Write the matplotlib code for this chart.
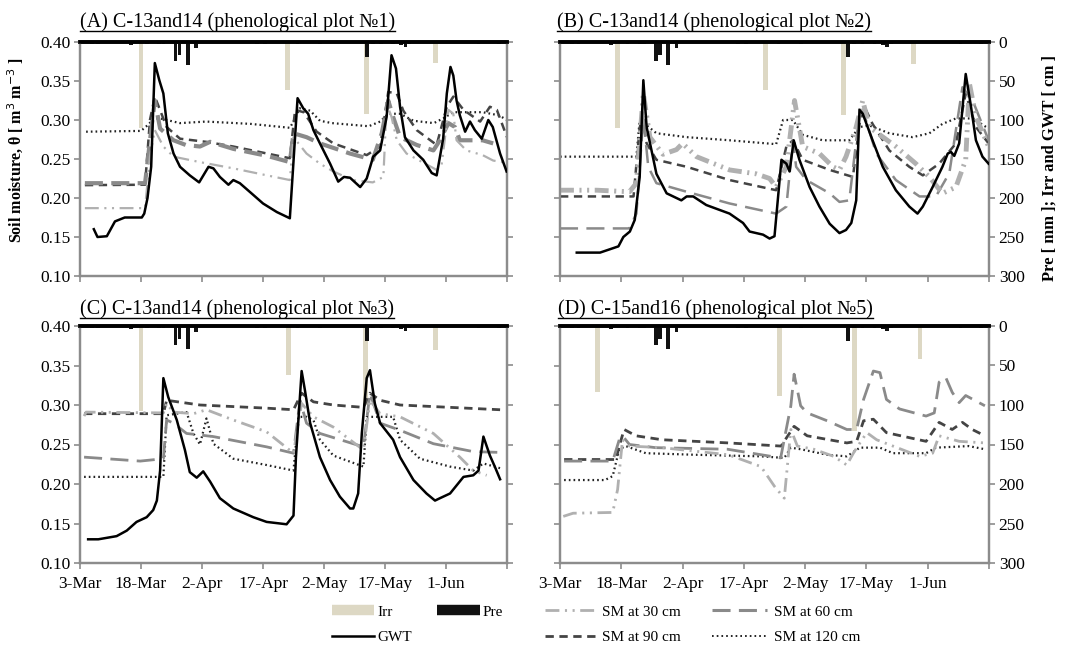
import matplotlib
matplotlib.use('Agg')
import matplotlib.pyplot as plt
from matplotlib.lines import Line2D

plt.rcParams['font.family'] = ['Liberation Serif', 'DejaVu Serif']
plt.rcParams['lines.scale_dashes'] = False

# ---------------- data ----------------
tick_days = [0, 15, 30, 45, 60, 75, 90, 105]
tick_labels = ['3-Mar', '18-Mar', '2-Apr', '17-Apr', '2-May', '17-May', '1-Jun', '']

pre_day = [3, 4.5, 12.5, 16.5, 19.5, 20.5, 23.5, 24.5, 26.5, 28.5, 43.5, 45.5, 53.5, 59,
           70.5, 72, 74, 77, 79, 80, 81, 98, 103]
pre_mm = [3, 3, 4, 3, 2, 3, 24, 17, 29, 8, 3, 3, 3, 3, 19, 2, 3, 2, 4, 6, 3, 3, 2]

# Panel A
A_irr_day = [15, 51, 70.5, 87.5]
A_irr = [110, 61, 92, 27]
A_gwt_day = [3.4, 4.3, 6.6, 8.6, 11, 13, 15.2, 15.8, 16.6, 17.5, 18.4, 19.5, 20.5, 21.6, 23, 24.6, 27,
             29.3, 31.6, 32.8, 34.4, 36.5, 37.7, 39.3, 42.6, 45, 48.4, 51.6, 53.5, 54.9, 56.1, 57.4,
             59, 61.5, 63.5, 64.9, 66.4, 68.9, 70.5, 72.1, 73.8, 75.4, 76.6, 77.7, 78.7, 79.9, 82,
             84.4, 86.5, 87.7, 89.3, 90.2, 91.1, 91.8, 92.6, 93.4, 94.7, 95.9, 97.1, 98.8, 100.4,
             101.5, 103.3, 104.9]
A_gwt = [240, 250, 249, 230, 225, 225, 225, 220, 200, 160, 27, 49, 66, 117, 143, 160, 171, 180, 160,
         162, 173, 183, 177, 181, 196, 207, 218, 226, 72, 85, 92, 113, 130, 156, 179, 173, 174, 186,
         175, 147, 139, 96, 17, 34, 83, 122, 139, 151, 168, 171, 124, 66, 32, 43, 75, 94, 115, 102,
         113, 124, 100, 109, 143, 166]
A_sm120_day = [1.5, 15, 17, 18, 19.7, 24.6, 31, 42, 51.6, 52.5, 54, 56.6, 59, 62, 71, 73.8, 75.8,
               78.7, 82, 87, 89.3, 91.8, 99, 103, 105]
A_sm120 = [0.285, 0.286, 0.295, 0.302, 0.302, 0.296, 0.298, 0.295, 0.290, 0.298, 0.315, 0.312, 0.299,
           0.296, 0.292, 0.298, 0.308, 0.308, 0.299, 0.296, 0.302, 0.310, 0.310, 0.306, 0.300]
A_sm90_day = [1.2, 16, 17.2, 18.4, 21.3, 24.6, 31, 37.7, 46, 51.6, 52.9, 55, 58.2, 62.3, 70.5, 73.8,
              75.8, 77.9, 79.5, 82.8, 87.7, 90.2, 91.8, 94.3, 98.4, 100.8, 102.5, 105]
A_sm90 = [0.2165, 0.217, 0.30, 0.33, 0.291, 0.276, 0.272, 0.266, 0.257, 0.251, 0.313, 0.310, 0.285,
          0.270, 0.255, 0.266, 0.336, 0.334, 0.312, 0.287, 0.268, 0.317, 0.330, 0.313, 0.298, 0.317,
          0.313, 0.278]
A_sm60_day = [1.2, 16, 17.6, 18.4, 19.7, 23, 26, 29.5, 32, 37.7, 46, 51.6, 52.5, 55.7, 59, 66.4, 72,
              74.2, 75.8, 77, 78.7, 82.8, 86.9, 88.5, 90.6, 92.2, 93.4, 99, 101.6]
A_sm60 = [0.219, 0.219, 0.291, 0.325, 0.289, 0.274, 0.268, 0.266, 0.272, 0.263, 0.254, 0.246, 0.283,
          0.278, 0.270, 0.257, 0.249, 0.283, 0.325, 0.304, 0.278, 0.268, 0.261, 0.274, 0.296, 0.291,
          0.274, 0.274, 0.270]
A_sm30_day = [1.2, 16, 17.2, 18.4, 20.5, 23, 29.5, 37.7, 46, 51.6, 52.5, 55.7, 59, 62.3, 67, 72, 74.6,
              75.4, 76.6, 77.9, 80.3, 87.7, 88.9, 90.6, 91.8, 92.6, 95, 99, 101.6, 105]
A_sm30 = [0.187, 0.187, 0.253, 0.287, 0.266, 0.253, 0.246, 0.238, 0.229, 0.223, 0.278, 0.257, 0.244,
          0.234, 0.223, 0.220, 0.227, 0.321, 0.304, 0.274, 0.257, 0.236, 0.242, 0.313, 0.308, 0.274,
          0.261, 0.255, 0.248, 0.245]

# Panel B
B_irr_day = [14.1, 50.2, 69.3, 86.5]
B_irr = [110, 62, 93, 28]
B_gwt_day = [4.1, 9.8, 14.3, 15.5, 17.1, 18.3, 19.5, 20.4, 21.2, 22.4, 23.6, 26.1, 29.7, 31, 32.6,
             35.8, 41.5, 44.8, 46.4, 49.7, 51.3, 52.5, 54.2, 55.4, 56.2, 57.2, 58.6, 61.1, 63.5, 66,
             68.4, 70, 71.3, 72.5, 73.3, 74.1, 76.5, 79, 82.2, 85.5, 87.5, 88.8, 91.2, 93.6, 94.9,
             95.7, 96.5, 97.7, 99.3, 100.6, 101.8, 103.4, 104.9]
B_gwt = [270, 270, 262, 250, 243, 228, 173, 49, 109, 139, 169, 194, 203, 198, 198, 209, 220, 232,
         243, 247, 252, 249, 151, 156, 166, 126, 151, 186, 211, 233, 245, 241, 232, 203, 87, 92, 126,
         160, 190, 211, 220, 211, 186, 160, 143, 141, 146, 130, 41, 83, 126, 147, 156]
B_sm120_day = [0, 18.7, 19.5, 20.8, 23.6, 31, 41.5, 52.9, 54.6, 57, 59.4, 64.3, 70.8, 73.3, 75.7,
               80.6, 86.3, 90.4, 93.6, 96.9, 101, 104.9]
B_sm120 = [0.253, 0.253, 0.300, 0.295, 0.283, 0.278, 0.274, 0.269, 0.300, 0.300, 0.281, 0.274, 0.274,
           0.291, 0.293, 0.283, 0.278, 0.283, 0.295, 0.302, 0.302, 0.289]
B_sm90_day = [0, 18, 19.5, 20.2, 21.2, 23.6, 31, 41.5, 52.9, 55.4, 57, 59.4, 66, 71.7, 73.3, 74.5,
              76.5, 80.6, 85.5, 88.8, 92.8, 96.9, 99.3, 101.8, 104.9]
B_sm90 = [0.202, 0.202, 0.290, 0.305, 0.270, 0.249, 0.240, 0.223, 0.210, 0.266, 0.274, 0.249, 0.236,
          0.227, 0.295, 0.317, 0.295, 0.261, 0.240, 0.229, 0.244, 0.270, 0.334, 0.291, 0.270]
B_sm60_day = [0, 17, 18.7, 20.4, 21.6, 23.6, 31, 41.5, 52.9, 55.4, 57, 57.8, 60.3, 66, 68.4, 70.8,
              72.9, 74.1, 77.4, 82.2, 88, 92, 95.3, 98.5, 101, 104.9]
B_sm60 = [0.161, 0.161, 0.180, 0.304, 0.240, 0.219, 0.208, 0.193, 0.180, 0.189, 0.274, 0.240, 0.223,
          0.206, 0.195, 0.197, 0.291, 0.313, 0.257, 0.223, 0.202, 0.202, 0.232, 0.342, 0.325, 0.274]
B_sm30_day = [0, 9, 17, 18.7, 20.4, 22, 25.2, 28.5, 30, 33.4, 41.5, 48, 51.3, 52.9, 55.4, 57.4, 59.4,
              63.5, 66.8, 68.4, 70, 72.5, 74.1, 75.7, 82.2, 87.1, 90.4, 93.6, 96.9, 99.3, 100.2,
              101.8, 104.9]
B_sm30 = [0.210, 0.210, 0.208, 0.219, 0.334, 0.278, 0.256, 0.262, 0.270, 0.253, 0.236, 0.231, 0.225,
          0.214, 0.240, 0.325, 0.266, 0.257, 0.240, 0.236, 0.253, 0.291, 0.325, 0.291, 0.266, 0.244,
          0.227, 0.206, 0.214, 0.249, 0.347, 0.304, 0.266]

# Panel C
C_irr_day = [15, 51.3, 70.3, 87.5]
C_irr = [108, 62, 100, 30]
C_gwt_day = [2, 4.5, 9, 11.5, 13.9, 16.4, 18, 18.9, 19.7, 20.5, 21.7, 23.8, 25.8, 27, 28.7, 30.3, 32,
             34.4, 37.7, 42.6, 45.9, 49.2, 50.8, 52.5, 53.1, 54.5, 55.3, 56.6, 59, 61.5, 63.9, 66.4,
             67.2, 68.4, 69.3, 70.5, 71.3, 72.5, 73.8, 77, 78.7, 82, 85.2, 87.3, 88.5, 91, 94.3, 96.7,
             98, 99.2, 100.8, 102, 103.3]
C_gwt = [270, 270, 266, 259, 248, 242, 233, 221, 183, 66, 90, 119, 157, 185, 192, 184, 197, 218, 231,
         242, 248, 250, 251, 240, 166, 57, 81, 123, 166, 195, 216, 231, 231, 212, 136, 66, 56, 98, 123,
         144, 166, 195, 212, 221, 218, 212, 191, 189, 183, 140, 164, 178, 194]
C_sm120_day = [1, 20.5, 21.3, 26.2, 27.9, 29.5, 31.1, 32.8, 37.7, 45.9, 52.5, 53.7, 55.7, 57.4, 59,
               62.3, 69.7, 70.5, 73.8, 77, 78.7, 83.6, 91, 96.7, 99.2, 103.3]
C_sm120 = [0.209, 0.209, 0.287, 0.291, 0.264, 0.250, 0.283, 0.251, 0.232, 0.224, 0.217, 0.285, 0.285,
           0.281, 0.256, 0.236, 0.222, 0.285, 0.285, 0.285, 0.256, 0.232, 0.222, 0.217, 0.226, 0.220]
C_sm90_day = [1, 20.5, 21.3, 29.5, 45.9, 52.5, 54.5, 57.4, 62.3, 69.7, 71.3, 73.8, 78.7, 91, 103.3]
C_sm90 = [0.289, 0.289, 0.306, 0.300, 0.296, 0.294, 0.315, 0.304, 0.300, 0.297, 0.315, 0.306, 0.300,
          0.297, 0.294]
C_sm60_day = [1, 14.8, 20.5, 21.3, 23, 26.2, 32.8, 45.9, 52.5, 54.1, 55.7, 59, 69.7, 71.3, 73.8, 78.7,
              86.9, 96.7, 103.3]
C_sm60 = [0.234, 0.229, 0.232, 0.281, 0.277, 0.264, 0.260, 0.247, 0.239, 0.306, 0.277, 0.264, 0.247,
          0.315, 0.277, 0.268, 0.251, 0.241, 0.240]
C_sm30_day = [1, 1.5, 20.5, 21.3, 23, 27.9, 31.1, 37.7, 45.9, 52.5, 54.5, 57.4, 62.3, 69.7, 71.3,
              73.8, 78.7, 86.9, 93.4, 96.7, 100]
C_sm30 = [0.286, 0.291, 0.290, 0.302, 0.291, 0.289, 0.294, 0.281, 0.266, 0.239, 0.302, 0.285, 0.272,
          0.243, 0.306, 0.289, 0.285, 0.264, 0.234, 0.217, 0.211]

# Panel D
D_irr_day = [9.2, 53.7, 72, 88.1]
D_irr = [84, 88, 133, 42]
D_sm120_day = [1, 11, 12.9, 14.5, 16.1, 21, 33, 49.2, 54.9, 56.5, 58.9, 65.4, 70.2, 73.4, 78.3, 81.5,
               89.6, 92, 100, 104]
D_sm120 = [0.205, 0.205, 0.210, 0.244, 0.248, 0.239, 0.237, 0.235, 0.233, 0.246, 0.244, 0.237, 0.235,
           0.246, 0.246, 0.239, 0.239, 0.246, 0.248, 0.244]
D_sm90_day = [1, 13.7, 14.5, 15.7, 18.6, 25, 41.2, 54.1, 57.3, 60.5, 70.2, 72.6, 74.3, 76.7, 79.9,
              89.6, 92.8, 96, 98.5, 100.9, 104]
D_sm90 = [0.231, 0.231, 0.248, 0.269, 0.261, 0.256, 0.252, 0.248, 0.273, 0.261, 0.252, 0.254, 0.280,
          0.282, 0.265, 0.254, 0.278, 0.269, 0.278, 0.269, 0.261]
D_sm60_day = [1, 12.9, 14.5, 15.3, 17, 23.4, 41, 54, 56.5, 57.3, 58.9, 60.5, 65.4, 70.2, 72.6, 74.3,
              76.7, 78.3, 79.9, 83.1, 89.6, 91.6, 92.8, 94.4, 96, 97.7, 99.3, 104]
D_sm60 = [0.229, 0.229, 0.256, 0.261, 0.250, 0.246, 0.244, 0.233, 0.299, 0.339, 0.299, 0.290, 0.280,
          0.269, 0.269, 0.307, 0.343, 0.341, 0.307, 0.295, 0.286, 0.290, 0.329, 0.335, 0.316, 0.303,
          0.312, 0.299]
D_sm30_day = [0.8, 3.2, 12.9, 14.1, 15.3, 17, 25, 41.2, 49.2, 52.5, 54.9, 56.5, 58.1, 62.1, 67, 70.2,
              71.8, 73.4, 75.1, 77.5, 81.5, 88, 91.2, 92.8, 97.7, 104]
D_sm30 = [0.159, 0.163, 0.164, 0.193, 0.256, 0.248, 0.246, 0.237, 0.222, 0.197, 0.182, 0.269, 0.248,
          0.244, 0.235, 0.224, 0.239, 0.252, 0.265, 0.256, 0.248, 0.235, 0.239, 0.261, 0.254, 0.252]

titles = ['(A) C-13and14 (phenological plot \u21161)', '(B) C-13and14 (phenological plot \u21162)',
          '(C) C-13and14 (phenological plot \u21163)', '(D) C-15and16 (phenological plot \u21165)']

# ---------------- styles ----------------
IRR_C = '#ddd8c4'
FRAME_C = '#8c8c8c'
st30 = dict(color='#b0b0b0', ls=(0, (10, 4, 1.5, 4, 1.5, 4)))
st60 = dict(color='#8a8a8a', ls=(0, (13, 6)))
st90 = dict(color='#444444', ls=(0, (6, 4)))
st120 = dict(color='#222222', ls=(0, (1.2, 2.2)))
stgwt = dict(color='black', ls='-', lw=1.8)

fig = plt.figure(figsize=(10.65, 6.46), dpi=100)
W, H = 1065, 646

def axrect(l, t, r, b):
    return [l / W, 1 - b / H, (r - l) / W, (b - t) / H]

rects = [axrect(80, 42, 507, 276), axrect(560, 42, 989, 276),
         axrect(80, 326, 507, 563), axrect(560, 326, 989, 563)]

panels = [
    dict(irr=(A_irr_day, A_irr), gwt=(A_gwt_day, A_gwt),
         s30=(A_sm30_day, A_sm30, 1.6), s60=(A_sm60_day, A_sm60, 3.0),
         s90=(A_sm90_day, A_sm90, 1.8), s120=(A_sm120_day, A_sm120, 1.6)),
    dict(irr=(B_irr_day, B_irr), gwt=(B_gwt_day, B_gwt),
         s30=(B_sm30_day, B_sm30, 3.5), s60=(B_sm60_day, B_sm60, 1.8),
         s90=(B_sm90_day, B_sm90, 1.8), s120=(B_sm120_day, B_sm120, 1.6)),
    dict(irr=(C_irr_day, C_irr), gwt=(C_gwt_day, C_gwt),
         s30=(C_sm30_day, C_sm30, 2.0), s60=(C_sm60_day, C_sm60, 2.0),
         s90=(C_sm90_day, C_sm90, 2.0), s120=(C_sm120_day, C_sm120, 1.6)),
    dict(irr=(D_irr_day, D_irr), gwt=None,
         s30=(D_sm30_day, D_sm30, 2.0), s60=(D_sm60_day, D_sm60, 2.0),
         s90=(D_sm90_day, D_sm90, 2.0), s120=(D_sm120_day, D_sm120, 1.6)),
]

title_pos = [(80, 27), (557, 27), (80, 314), (558, 314)]

for i, (rect, p) in enumerate(zip(rects, panels)):
    ax = fig.add_axes(rect)
    ax2 = ax.twinx()
    ax.set_zorder(2)
    ax.patch.set_visible(False)
    ax2.set_zorder(1)

    # right axis: bars
    ax2.bar(p['irr'][0], p['irr'][1], width=1.2, color=IRR_C, zorder=2)
    ax2.bar(pre_day, pre_mm, width=0.9, color='#111111', zorder=3)
    ax2.set_ylim(300, 0)
    ax2.set_yticks(range(0, 301, 50))

    # left axis: soil moisture
    ax.plot(p['s120'][0], p['s120'][1], lw=p['s120'][2], **st120)
    ax.plot(p['s90'][0], p['s90'][1], lw=p['s90'][2], **st90)
    ax.plot(p['s60'][0], p['s60'][1], lw=p['s60'][2], **st60)
    ax.plot(p['s30'][0], p['s30'][1], lw=p['s30'][2], **st30)
    if p['gwt'] is not None:
        gx = ax.twinx()
        gx.set_ylim(300, 0)
        gx.axis('off')
        gx.set_zorder(3)
        gx.plot(p['gwt'][0], p['gwt'][1], **stgwt)
        gx.set_xlim(0, 105)

    ax.set_xlim(0, 105)
    ax.set_ylim(0.10, 0.40)
    ax.set_yticks([0.10, 0.15, 0.20, 0.25, 0.30, 0.35, 0.40])
    ax.set_xticks(tick_days)

    for a in (ax, ax2):
        for s in ('left', 'right', 'bottom'):
            a.spines[s].set_color(FRAME_C)
            a.spines[s].set_linewidth(1.6)
        a.spines['top'].set_color('black')
        a.spines['top'].set_linewidth(2.6)
        a.tick_params(direction='out', color=FRAME_C, length=4, width=1.2,
                      labelsize=12.5, pad=3)
    ax.tick_params(axis='x', pad=5)

    if i % 2 == 0:
        ax.set_yticklabels(['%.2f' % v for v in ax.get_yticks()])
        ax2.set_yticklabels([])
    else:
        ax.set_yticklabels([])
    if i >= 2:
        ax.set_xticklabels(tick_labels)
    else:
        ax.set_xticklabels([])

    tx, ty = title_pos[i]
    fig.text(tx / W, 1 - ty / H, titles[i], fontsize=14.5, ha='left', va='baseline')

fig.canvas.draw()
for t in list(fig.texts):
    bb = t.get_window_extent()
    y = bb.y0 + 1.5
    fig.add_artist(Line2D([bb.x0 / W, bb.x1 / W], [y / H, y / H], color='black', lw=1.0,
                          transform=fig.transFigure))

fig.text(15 / W, 1 - 150 / H, 'Soil moisture, \u03b8 [ m$^3$ m$^{-3}$ ]', rotation=90,
         fontsize=11.5, fontweight='bold', ha='center', va='center')
fig.text(1050 / W, 1 - 168 / H, 'Pre [ mm ]; Irr and GWT [ cm ]', rotation=90,
         fontsize=12, fontweight='bold', ha='center', va='center')

# legend columns
h_irr = Line2D([], [], color=IRR_C, lw=7.5, solid_capstyle='butt')
h_pre = Line2D([], [], color='#111111', lw=7.5, solid_capstyle='butt')
h_gwt = Line2D([], [], **stgwt)
h_blank = Line2D([], [], color='none')
h30 = Line2D([], [], lw=2, **st30)
h60 = Line2D([], [], lw=2.2, **st60)
h90 = Line2D([], [], lw=2, **st90)
h120 = Line2D([], [], lw=1.4, **st120)

cols = [(332, [h_irr, h_gwt], ['Irr', 'GWT'], 2.75, 0.2),
        (437, [h_pre, h_blank], ['Pre', ''], 2.8, 0.15),
        (545, [h30, h90], ['SM at 30 cm', 'SM at 90 cm'], 3.4, 0.3),
        (712, [h60, h120], ['SM at 60 cm', 'SM at 120 cm'], 3.6, 0.45)]
for x, hs, ls, hl, tp in cols:
    fig.legend(hs, ls, loc='upper left', bbox_to_anchor=(x / W, 1 - 605 / H),
               frameon=False, fontsize=11, handlelength=hl, handletextpad=tp,
               borderpad=0, borderaxespad=0, labelspacing=0.75)

fig.savefig('out.png', dpi=100)
